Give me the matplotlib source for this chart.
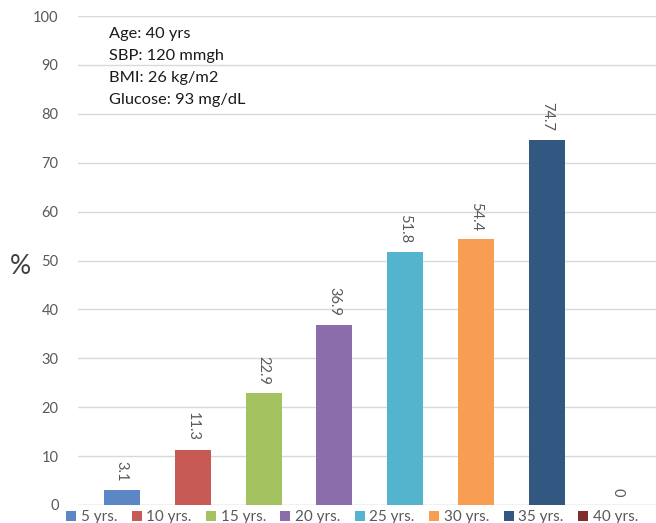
"""
Risk (%) by time horizon, bar chart with patient profile box.
"""
import matplotlib
matplotlib.use("Agg")
import matplotlib.pyplot as plt
import numpy as np

CATEGORIES = ["5 yrs.", "10 yrs.", "15 yrs.", "20 yrs.", "25 yrs.", "30 yrs.", "35 yrs.", "40 yrs."]
VALUES = [3.1, 11.3, 22.9, 36.9, 51.8, 54.4, 74.7, 0]
LABELS = ["3.1", "11.3", "22.9", "36.9", "51.8", "54.4", "74.7", "0"]
COLORS = ["#5B87C5", "#C85A55", "#A5C261", "#8A6DAA", "#55B4CD", "#F89E52", "#325882", "#7F2E2C"]
PROFILE = ["Age: 40 yrs", "SBP: 120 mmgh", "BMI: 26 kg/m2", "Glucose: 93 mg/dL"]
Y_TICKS = [0, 10, 20, 30, 40, 50, 60, 70, 80, 90, 100]

plt.rcParams["font.family"] = ["Lato", "DejaVu Sans"]

fig = plt.figure(figsize=(6.56, 5.23), dpi=100)
ax = fig.add_axes([78 / 656, 1 - 505 / 523, 1 - 78 / 656, (505 - 16) / 523])

x = np.arange(len(CATEGORIES))
bars = ax.bar(x, VALUES, width=0.51, color=COLORS, zorder=3)

for xi, v, lab in zip(x, VALUES, LABELS):
    ax.annotate(lab, (xi, v), xytext=(0, 6), textcoords="offset points",
                ha="center", va="bottom", rotation=270, fontsize=10.5, color="#595959")

ax.set_xlim(-0.62, 7.54)
ax.set_ylim(0, 100)
ax.set_yticks(Y_TICKS)
ax.set_xticks([])
ax.tick_params(axis="y", length=0, labelsize=10.5, labelcolor="#595959", pad=14)
ax.grid(axis="y", color="#D9D9D9", linewidth=1, zorder=0)
for s in ax.spines.values():
    s.set_visible(False)
ax.axhline(0, color="#D9D9D9", linewidth=1, zorder=1)

fig.text(20 / 656, 1 - 266 / 523, "%", fontsize=19, color="#404040", ha="center", va="center")

for i, line in enumerate(PROFILE):
    ax.text(0.053, 0.963 - i * 0.045, line, transform=ax.transAxes,
            fontsize=11.8, color="#1a1a1a", ha="left", va="center")

fig.legend(bars, CATEGORIES, loc="center", bbox_to_anchor=(352 / 656, 1 - 517 / 523),
           ncol=8, frameon=False, fontsize=11, handlelength=0.65, handleheight=0.65,
           handletextpad=0.3, columnspacing=0.95, labelcolor="#595959")

fig.savefig("out.png", dpi=100)
